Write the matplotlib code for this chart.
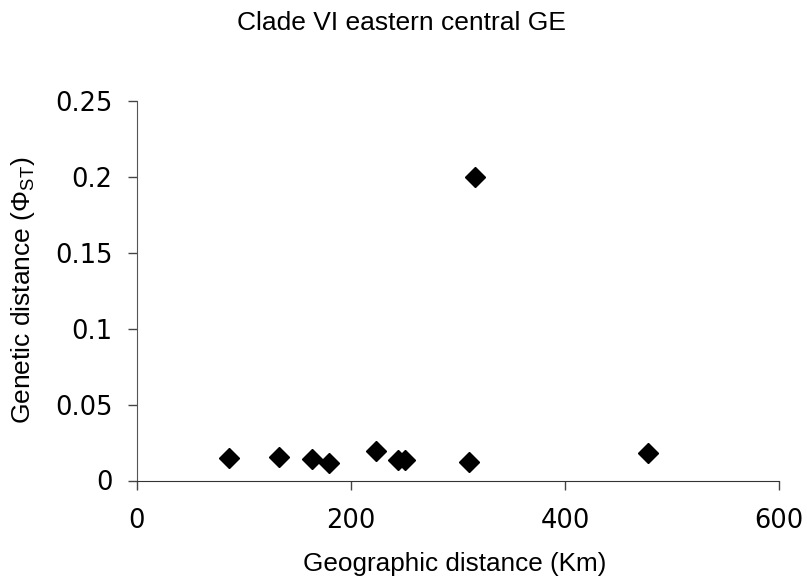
import matplotlib
matplotlib.use('Agg')
import matplotlib.pyplot as plt

# geographic vs genetic distance
geo_km = [86, 133, 164, 179, 223, 244, 250, 310, 316, 478]
phi_st = [0.0150, 0.0157, 0.0140, 0.0113, 0.0196, 0.0135, 0.0135, 0.0124, 0.200, 0.0183]

x_ticks = [0, 200, 400, 600]
x_labels = ['0', '200', '400', '600']
y_ticks = [0, 0.05, 0.1, 0.15, 0.2, 0.25]
y_labels = ['0', '0.05', '0.1', '0.15', '0.2', '0.25']

plt.rcParams['mathtext.fontset'] = 'custom'
plt.rcParams['mathtext.rm'] = 'Liberation Sans'

fig = plt.figure(figsize=(8.07, 5.82), dpi=100)
ax = fig.add_axes([137 / 807, 1 - 480.5 / 582, (779 - 137) / 807, (480.5 - 100.7) / 582])

ax.plot(geo_km, phi_st, linestyle='none', marker='D', markersize=10,
        color='black', clip_on=False)

ax.set_xlim(0, 600)
ax.set_ylim(0, 0.25)
ax.set_xticks(x_ticks)
ax.set_xticklabels(x_labels)
ax.set_yticks(y_ticks)
ax.set_yticklabels(y_labels)

for side in ['top', 'right']:
    ax.spines[side].set_visible(False)
ax.spines['left'].set_color('#555555')
ax.spines['bottom'].set_color('#333333')
ax.tick_params(axis='both', direction='out', length=6.5, width=1,
               color='#444444', labelsize=18.5, labelcolor='black')
ax.tick_params(axis='x', pad=13)
ax.tick_params(axis='y', pad=11)
for lab in ax.get_xticklabels() + ax.get_yticklabels():
    lab.set_family('DejaVu Sans')

fig.text(0.498, 1 - 23 / 582, 'Clade VI eastern central GE',
         family='Liberation Sans', fontsize=19, ha='center', va='center')
fig.text(455 / 807, 1 - 564 / 582, 'Geographic distance (Km)',
         family='Liberation Sans', fontsize=18.8, ha='center', va='center')
fig.text(23 / 807, 1 - 290 / 582, r'Genetic distance (Φ$_{\mathrm{ST}}$)',
         family='Liberation Sans', fontsize=19, ha='center', va='center',
         rotation=90)

fig.savefig('out.png', dpi=100)
